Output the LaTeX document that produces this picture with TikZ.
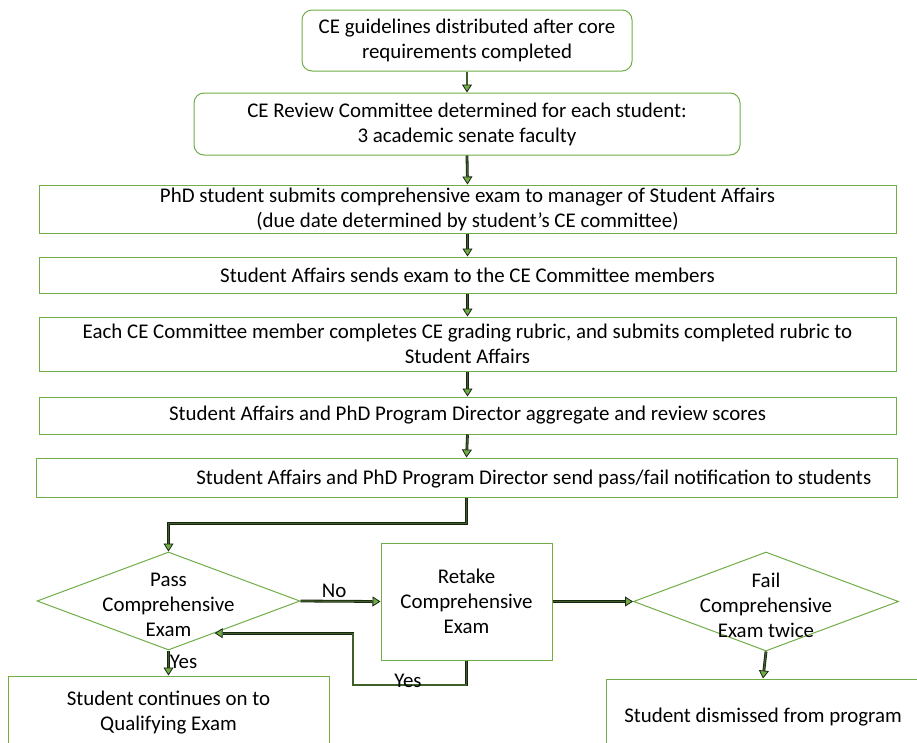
\documentclass[tikz,border=0pt]{standalone}
\usepackage{fontspec}
\setmainfont{Carlito}
\usetikzlibrary{arrows.meta,shapes.geometric,calc}
\definecolor{gr}{HTML}{70AD47}
\definecolor{dk}{HTML}{1A2412}
\begin{document}
\begin{tikzpicture}[x=1pt,y=-1pt,
  every node/.style={font=\fontsize{20.9}{25}\selectfont, text=black},
  box/.style={draw=gr, line width=1pt, align=center, inner sep=0pt},
  rbox/.style={box, rounded corners=10pt},
  dia/.style={draw=gr, line width=1pt, diamond, inner sep=0pt},
  conn/.style={draw=dk, line width=0.8pt, double=gr!55!black, double distance=1.2pt,
     -{Triangle[length=8pt,width=10pt,fill=gr]}},
  lbl/.style={inner sep=1pt}]
\useasboundingbox (0,0) rectangle (917,742);
\clip (0,0) rectangle (917,742);
\node[rbox, minimum width=330, minimum height=61] (b1) at (467,40.5)
  {CE guidelines distributed after core\\requirements completed};
\node[rbox, minimum width=546, minimum height=62] (b2) at (467,124)
  {CE Review Committee determined for each student:\\3 academic senate faculty};
\node[box, minimum width=857, minimum height=48] (b3) at (467.5,209)
  {PhD student submits comprehensive exam to manager of Student Affairs\\(due date determined by student’s CE committee)};
\node[box, minimum width=857, minimum height=36] (b4) at (467.5,275)
  {Student Affairs sends exam to the CE Committee members};
\node[box, minimum width=857, minimum height=54] (b5) at (467.5,344)
  {Each CE Committee member completes CE grading rubric, and submits completed rubric to\\Student Affairs};
\node[box, minimum width=857, minimum height=37] (b6) at (467.5,415.5)
  {Student Affairs and PhD Program Director aggregate and review scores};
\node[box, minimum width=861, minimum height=39,
  label={[anchor=east, inner sep=0pt, xshift=-26pt, yshift=-2pt]east:Student Affairs and PhD Program Director send pass/fail notification to students}]
  (b7) at (466.5,477.5) {};
\node[dia, minimum width=263, minimum height=98] (d1) at (168.5,601) {};
\node[align=center] (d1t) at (168.5,605) {Pass\\Comprehensive\\Exam};
\node[box, minimum width=171, minimum height=117] (rt) at (466.5,601.5)
  {Retake\\Comprehensive\\Exam};
\node[dia, minimum width=265, minimum height=99] (d2) at (766,601.5) {};
\node[align=center] (d2t) at (766,605) {Fail\\Comprehensive\\Exam twice};
\node[box, minimum width=321, minimum height=74] (sc) at (168.5,713)
  {Student continues on to\\Qualifying Exam};
\node[box, minimum width=314, minimum height=76] (sd) at (763,717)
  {Student dismissed from program};
% connectors
\draw[conn] (b1.south) -- (b2.north);
\draw[conn] (b2.south) -- (b3.north);
\draw[conn] (b3.south) -- (b4.north);
\draw[conn] (b4.south) -- (b5.north);
\draw[conn] (b5.south) -- (b6.north);
\draw[conn] (b6.south) -- (b7.north);
\coordinate (c1) at (466.5,523.5);
\draw[conn] (b7.south) -- (c1) -| (d1.north);
\draw[conn] (d1.east) -- node[lbl, above, pos=0.42, yshift=2pt] {No} (rt.west);
\draw[conn] (rt.east) -- (d2.west);
\draw[conn] (d1.south) -- node[lbl, right, pos=0.45] {Yes} (sc.north);
\draw[conn] (d2.south) -- (sd.north);
\coordinate (c2) at (353,685);
\coordinate (fb) at ($(d1.east)!0.65!(d1.south)$);
\draw[conn] (rt.south) |- (c2) |- (fb);
\node[lbl] (y2) at (408,681) {Yes};
\end{tikzpicture}
\end{document}
